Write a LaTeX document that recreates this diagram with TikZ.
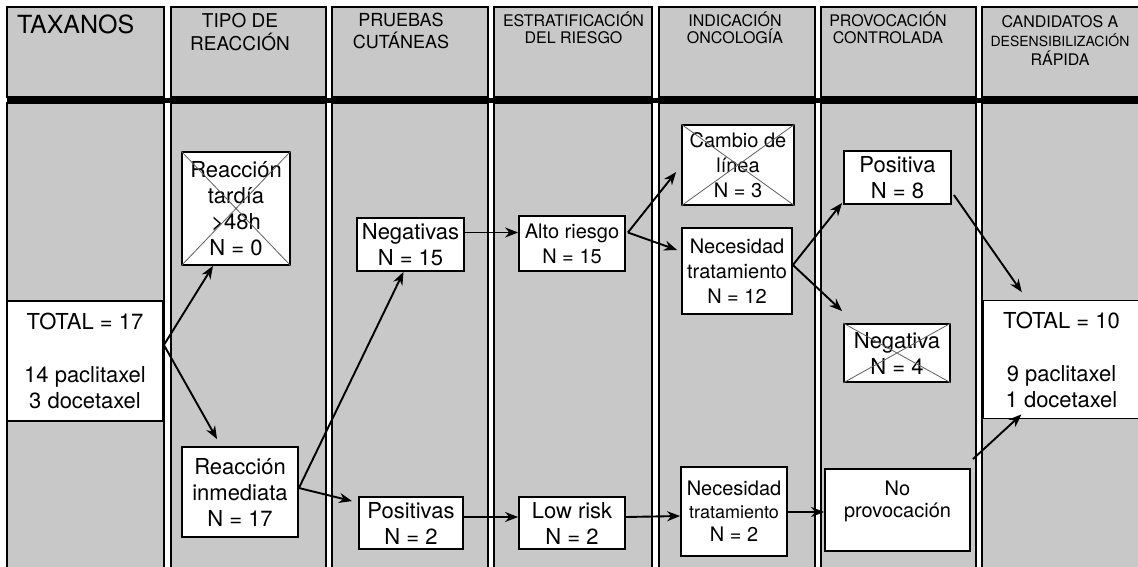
\documentclass[tikz,border=0pt]{standalone}
\usepackage{fontspec}
\setmainfont{TeX Gyre Heros}
\usepackage{tikz}
\definecolor{lanegray}{RGB}{200,200,200}
\definecolor{crossgray}{RGB}{95,95,95}
\usetikzlibrary{arrows.meta}
\tikzset{
	lane/.style={draw=black, line width=1.3pt, fill=lanegray},
	head/.style={align=center, inner sep=0pt, anchor=north, font=\fontsize{16}{17}\selectfont},
	box/.style={draw, line width=1.8pt, fill=white, align=center, inner sep=0pt, font=\fontsize{22}{26}\selectfont},
	smallbox/.style={box, font=\fontsize{20}{25}\selectfont},
	flow/.style={->, line width=1.9pt},
	crossed/.style={draw=crossgray, line width=0.8pt}
}

\begin{document}
\begin{tikzpicture}[x=1pt, y=-1pt, >={Stealth[length=13pt,width=10pt]}]
	\clip (0,0) rectangle (1138,567);
	\fill[white] (0,0) rectangle (1138,567);
	
	% lanes, header part and body part
	\draw[lane] (7,7) rectangle (164,97);
	\draw[lane] (171,7) rectangle (326,97);
	\draw[lane] (332,7) rectangle (488,97);
	\draw[lane] (494,7) rectangle (652,97);
	\draw[lane] (659,7) rectangle (815,97);
	\draw[lane] (821,7) rectangle (976,97);
	\draw[lane] (982,7) rectangle (1150,97);
	
	\draw[lane] (7,103) rectangle (164,580);
	\draw[lane] (171,103) rectangle (326,580);
	\draw[lane] (332,103) rectangle (488,580);
	\draw[lane] (494,103) rectangle (652,580);
	\draw[lane] (659,103) rectangle (815,580);
	\draw[lane] (821,103) rectangle (976,580);
	\draw[lane] (982,103) rectangle (1150,580);
	
	\draw[line width=4.5pt] (7,100.5) -- (1150,100.5);
	
	% headers
	\node[head, anchor=north west, font=\fontsize{25}{30}\selectfont] (hTax) at (17,15) {TAXANOS};
	\node[head, font=\fontsize{19}{23}\selectfont] (hTipo) at (240,13) {TIPO DE\\REACCIÓN};
	\node[head, font=\fontsize{18}{22}\selectfont] (hPru) at (401,13) {PRUEBAS\\CUTÁNEAS};
	\node[head] (hEst) at (573.5,12) {ESTRATIFICACIÓN\\DEL RIESGO};
	\node[head] (hInd) at (735,12) {INDICACIÓN\\ONCOLOGÍA};
	\node[head] (hPro) at (888,12) {PROVOCACIÓN\\CONTROLADA};
	\node[head, font=\fontsize{16}{19}\selectfont] (hCan) at (1060,15.5) {CANDIDATOS A\\{\fontsize{14}{18}\selectfont DESENSIBILIZACIÓN}\\RÁPIDA};
	
	% boxes
	\node[box, minimum width=156pt, minimum height=120pt] (total1) at (85,361) {TOTAL = 17\\[27pt]14 paclitaxel\\3 docetaxel};
	
	\node[box, minimum width=108pt, minimum height=113pt] (tardia) at (236,208.5) {Reacción\\tardía\\>48h\\N = 0};
	
	\node[box, minimum width=116pt, minimum height=90pt] (inmediata) at (240,492) {Reacción\\inmediata\\N = 17};
	
	\node[box, minimum width=107pt, minimum height=53pt] (negativas) at (410.5,244.5) {Negativas\\N = 15};
	
	\node[box, minimum width=104pt, minimum height=52pt] (positivas) at (411,523) {Positivas\\N = 2};
	
	\node[smallbox, minimum width=106pt, minimum height=55pt] (alto) at (572,243.5) {Alto riesgo\\N = 15};
	
	\node[box, minimum width=106pt, minimum height=52pt] (low) at (572,523) {Low risk\\N = 2};
	
	\node[smallbox, minimum width=112pt, minimum height=80pt] (cambio) at (738,165) {Cambio de\\línea\\N = 3};
	
	\node[smallbox, minimum width=110pt, minimum height=86pt] (nec12) at (737,271) {Necesidad\\tratamiento\\N = 12};
	
	\node[smallbox, font=\fontsize{20}{23}\selectfont, minimum width=106pt, minimum height=89pt] (nec2) at (734,511.5) {Necesidad\\{\fontsize{18}{23}\selectfont tratamiento}\\N = 2};
	
	\node[box, minimum width=107pt, minimum height=53pt] (positiva) at (897.5,177.5) {Positiva\\N = 8};
	
	\node[box, minimum width=106pt, minimum height=58pt] (negativa) at (897,353) {Negativa\\N = 4};
	
	\node[smallbox, font=\fontsize{20}{22}\selectfont, minimum width=145pt, minimum height=82pt] (noprov) at (897.5,510) {No\\provocación\\\mbox{}};
	
	\node[box, minimum width=157pt, minimum height=118pt] (total2) at (1061.5,359.5) {TOTAL = 10\\[27pt]9 paclitaxel\\1 docetaxel};
	
	% crossed out boxes
	\draw[crossed] (tardia.north west) -- (tardia.south east) (tardia.north east) -- (tardia.south west);
	\draw[crossed] (cambio.north west) -- (cambio.south east) (cambio.north east) -- (cambio.south west);
	\draw[crossed] (negativa.north west) -- (negativa.south east) (negativa.north east) -- (negativa.south west);
	
	% arrows
	\draw[flow] ([yshift=16pt]total1.east) -- ([xshift=-23pt]tardia.south);
	\draw[flow, shorten >=8pt] ([yshift=16pt]total1.east) -- ([xshift=-19pt]inmediata.north);
	
	\draw[flow] ([yshift=4pt]inmediata.east) -- ([xshift=-7pt]negativas.south);
	\draw[flow] ([yshift=4pt]inmediata.east) -- ([shift={(-6pt,-5pt)}]positivas.north west);
	
	\draw[flow] ([yshift=12pt]negativas.east) -- ([yshift=11pt]alto.west);
	\draw[flow] ([yshift=6pt]positivas.east) -- ([yshift=6pt]low.west);
	
	\draw[flow] ([shift={(2pt,11pt)}]alto.east) -- ([shift={(-5pt,-7pt)}]cambio.west);
	\draw[flow] ([shift={(2pt,11pt)}]alto.east) -- ([shift={(-4pt,21pt)}]nec12.west);
	\draw[flow] ([yshift=6pt]low.east) -- ([yshift=-4.5pt]nec2.west);
	
	\draw[flow] ([yshift=-0.5pt]nec2.east) -- ([yshift=-2pt]noprov.west);
	\draw[flow] ([yshift=6pt]nec12.east) -- ([shift={(-1pt,2pt)}]positiva.south west);
	\draw[flow] ([yshift=6pt]nec12.east) -- ([shift={(-1pt,12pt)}]negativa.north west);
	
	\draw[flow, shorten >=9pt] ([shift={(2pt,-17.5pt)}]positiva.east) -- ([xshift=-34.5pt]total2.north);
	\draw[flow] ([shift={(2pt,9pt)}]noprov.north east) -- ([shift={(-40pt,5pt)}]total2.south);
\end{tikzpicture}
\end{document}
